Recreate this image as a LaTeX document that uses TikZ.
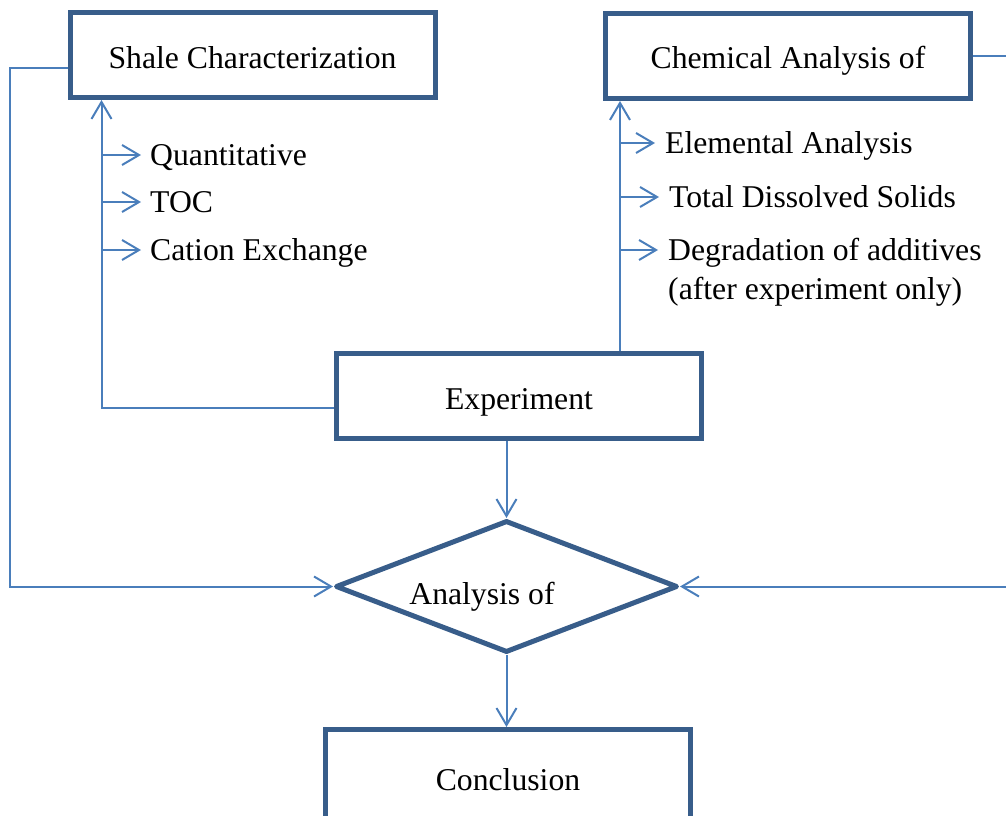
\documentclass[tikz,border=0pt]{standalone}
\usepackage{fontspec}
\setmainfont{Liberation Serif}
\usetikzlibrary{shapes.geometric,arrows.meta}
\definecolor{boxblue}{RGB}{56,93,138}
\definecolor{lineblue}{RGB}{74,126,187}
\begin{document}
\begin{tikzpicture}[x=1pt, y=-1pt,
    every node/.style={font=\fontsize{31.7}{38}\selectfont},
    box/.style={draw=boxblue, line width=5pt, rectangle, minimum width=365pt,
      minimum height=85pt, inner sep=0pt, text height=26pt, text depth=0pt},
    decide/.style={draw=boxblue, line width=5pt, diamond, minimum width=342pt,
      minimum height=132pt, inner sep=0pt, line join=round},
    item/.style={anchor=west, inner sep=0pt, text height=21pt, text depth=0pt},
    conn/.style={draw=lineblue, line width=2pt},
    arr/.style={conn, -{Straight Barb[length=17pt,width=20pt]}}]
  % --- 画布 (原图右侧与下侧被裁掉) ---
  \useasboundingbox (0,0) rectangle (1006,816);
  \clip (0,0) rectangle (1006,816);

  % --- 方框与判断框 ---
  \node[box] (shale) at (252.5,55) {Shale Characterization};
  \node[box] (chem) at (788,56) {Chemical Analysis of};
  \node[box] (exper) at (519,396) {Experiment};
  \node[decide, label={[name=antxt, text height=26pt, text depth=0pt,
      inner sep=0pt, xshift=-24.5pt, yshift=-4.5pt]center:Analysis of}] (anal) at (506.5,586.5) {};
  \node[box, minimum height=95pt] (concl) at (508,777) {Conclusion};

  % --- 两侧的列表 ---
  \node[item] (quant) at (150,155) {Quantitative};
  \node[item] (toc) at (150,202) {TOC};
  \node[item] (cec) at (150,250) {Cation Exchange};
  \node[item] (elem) at (665,143) {Elemental Analysis};
  \node[item] (tds) at (669,197) {Total Dissolved Solids};
  \node[item] (degr) at (668,250) {Degradation of additives};
  \node[item, anchor=north west] (degrb) at ([yshift=-18pt]degr.south west) {(after experiment only)};

  % --- 竖向主干 ---
  \coordinate (lsp) at ([xshift=34pt]shale.south west);
  \coordinate (rsp) at ([xshift=17pt]chem.south west);
  \draw[arr] ([yshift=-12pt]exper.west) -| (lsp);
  \draw[arr] (exper.north -| rsp) -- (rsp);
  \foreach \it in {quant,toc,cec}
    \draw[arr, shorten >=9pt] (lsp |- \it.west) -- (\it.west);
  \foreach \it in {elem,tds,degr}
    \draw[arr, shorten >=10pt] (rsp |- \it.west) -- (\it.west);

  % --- 汇入判断框, 再到结论 ---
  \draw[arr] (exper.south -| anal.north) -- (anal.north);
  \draw[arr] ([yshift=-13pt]shale.west) -- ++(-58,0) |- (anal.west);
  \draw[arr] (chem.east) -- ++(45,0) |- (anal.east);
  \draw[arr] (anal.south) -- (anal.south |- concl.north);
\end{tikzpicture}
\end{document}
